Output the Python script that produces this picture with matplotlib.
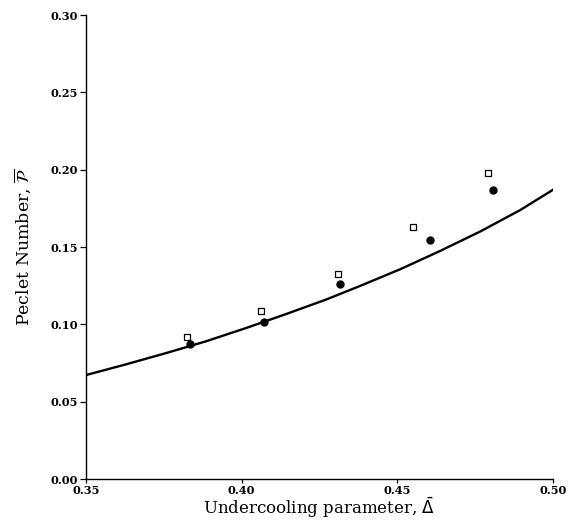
import matplotlib
matplotlib.use("Agg")
import matplotlib.pyplot as plt

# curve
curve_x = [0.35, 0.3628, 0.3757, 0.3885, 0.4014, 0.4142, 0.4271, 0.4380, 0.4509, 0.4637, 0.4766, 0.4894, 0.50]
curve_y = [0.0672, 0.0741, 0.0814, 0.0890, 0.0976, 0.1066, 0.1160, 0.1248, 0.1356, 0.1474, 0.1600, 0.1738, 0.1870]

# open squares
sq_x = [0.3823, 0.4061, 0.4309, 0.4551, 0.4790]
sq_y = [0.0916, 0.1084, 0.1323, 0.1627, 0.1980]

# filled circles
ci_x = [0.3834, 0.4072, 0.4315, 0.4604, 0.4808]
ci_y = [0.0873, 0.1017, 0.1259, 0.1545, 0.1869]

xticks = [0.35, 0.40, 0.45, 0.50]
yticks = [0.00, 0.05, 0.10, 0.15, 0.20, 0.25, 0.30]

fig = plt.figure(figsize=(5.8, 5.22), dpi=100)
ax = fig.add_axes([86/580, 1-479/522, (553-86)/580, (479-15)/522])

ax.plot(curve_x, curve_y, color='black', lw=1.7, solid_joinstyle='round', zorder=2)
ax.plot(sq_x, sq_y, ls='none', marker='s', ms=4.5, mfc='white', mec='black', mew=0.9, zorder=3)
ax.plot(ci_x, ci_y, ls='none', marker='o', ms=5, mfc='black', mec='black', zorder=3)

ax.set_xlim(0.35, 0.50)
ax.set_ylim(0.0, 0.30)
ax.set_xticks(xticks)
ax.set_yticks(yticks)
ax.set_xticklabels([f"{v:.2f}" for v in xticks])
ax.set_yticklabels([f"{v:.2f}" for v in yticks])
for lab in ax.get_xticklabels() + ax.get_yticklabels():
    lab.set_fontfamily('DejaVu Serif')
    lab.set_fontweight('bold')
    lab.set_fontsize(8.2)

ax.spines['top'].set_visible(False)
ax.spines['right'].set_visible(False)
ax.spines['left'].set_linewidth(1.0)
ax.spines['bottom'].set_linewidth(1.0)
ax.tick_params(direction='out', length=4, width=0.9, pad=2)
ax.tick_params(axis='x', length=3, pad=1)

ax.set_xlabel(r'Undercooling parameter, $\bar{\Delta}$', fontfamily='DejaVu Serif', fontsize=12)
ax.xaxis.set_label_coords(0.5, -0.035)
ax.set_ylabel(r'Peclet Number, $\overline{\mathcal{P}}$', fontfamily='DejaVu Serif', fontsize=12.5, labelpad=12)

fig.savefig('out.png', dpi=100)
